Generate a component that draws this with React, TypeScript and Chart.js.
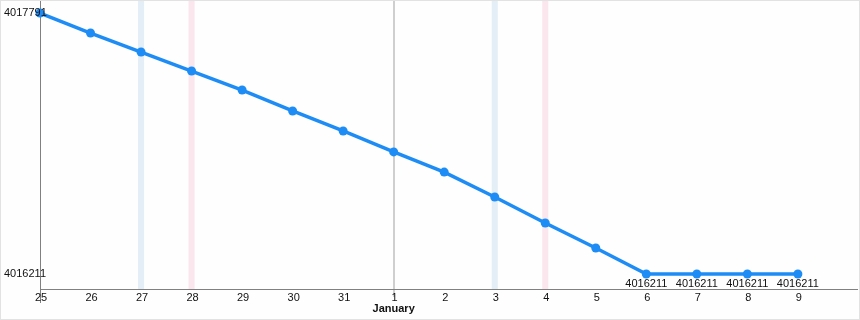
import React, { useEffect, useRef } from 'react';
import { Chart, registerables } from 'chart.js';
Chart.register(...registerables);

const categories = ['25', '26', '27', '28', '29', '30', '31', '1', '2', '3', '4', '5', '6', '7', '8', '9'];
const values = [4017791, 4017670, 4017555, 4017440, 4017325, 4017198, 4017077, 4016950, 4016828, 4016677, 4016520, 4016368, 4016211, 4016211, 4016211, 4016211];
const yTickValues = [4016211, 4017791];
const labeledPointIdx = [12, 13, 14, 15];
const monthLabels = [{ index: 7, text: 'January' }];
const blueBandIdx = [2, 9];
const pinkBandIdx = [3, 10];

const FONT = '"Liberation Sans", Arial, sans-serif';

export default function App() {
  const ref = useRef<HTMLCanvasElement>(null);
  useEffect(() => {
    const canvas = ref.current!;
    const bandPlugin = {
      id: 'bands',
      beforeDatasetsDraw(chart: any) {
        const { ctx, chartArea, scales } = chart;
        ctx.save();
        const draw = (idx: number[], color: string) => {
          ctx.fillStyle = color;
          idx.forEach((i) => {
            const x = scales.x.getPixelForValue(i);
            ctx.fillRect(x - 3, chartArea.top, 6, chartArea.bottom - chartArea.top);
          });
        };
        draw(blueBandIdx, '#e3eef6');
        draw(pinkBandIdx, '#fce6ee');
        // month gridline
        ctx.strokeStyle = '#cfcfcf';
        ctx.lineWidth = 2;
        monthLabels.forEach((m) => {
          const x = Math.round(scales.x.getPixelForValue(m.index));
          ctx.beginPath();
          ctx.moveTo(x, chartArea.top);
          ctx.lineTo(x, chartArea.bottom + 8);
          ctx.stroke();
        });
        // axes
        ctx.strokeStyle = '#808080';
        ctx.lineWidth = 1;
        ctx.beginPath();
        ctx.moveTo(chartArea.left + 0.5, chartArea.top);
        ctx.lineTo(chartArea.left + 0.5, chartArea.bottom + 14);
        ctx.moveTo(chartArea.left, chartArea.bottom + 0.5);
        ctx.lineTo(chartArea.right, chartArea.bottom + 0.5);
        ctx.stroke();
        ctx.restore();
      },
      afterDraw(chart: any) {
        const { ctx, scales, chartArea } = chart;
        ctx.save();
        ctx.fillStyle = '#111';
        ctx.font = '11px ' + FONT;
        ctx.textBaseline = 'middle';
        ctx.textAlign = 'left';
        yTickValues.forEach((v) => {
          ctx.fillText(String(v), 3, scales.y.getPixelForValue(v));
        });
        ctx.textAlign = 'center';
        categories.forEach((c, i) => {
          ctx.fillText(c, scales.x.getPixelForValue(i) + 1, chartArea.bottom + 9);
        });
        labeledPointIdx.forEach((i) => {
          const x = scales.x.getPixelForValue(i);
          const y = scales.y.getPixelForValue(values[i]);
          ctx.fillText(String(values[i]), x, y + 10);
        });
        ctx.font = 'bold 11px ' + FONT;
        monthLabels.forEach((m) => {
          const x = scales.x.getPixelForValue(m.index);
          ctx.fillText(m.text, x, chartArea.bottom + 20);
        });
        ctx.restore();
      },
    };
    const bgPlugin = {
      id: 'bg',
      beforeDraw(chart: any) {
        const { ctx, width, height } = chart;
        ctx.save();
        ctx.fillStyle = '#fdfefd';
        ctx.fillRect(0, 0, width, height);
        ctx.restore();
      },
    };
    const chart = new Chart(canvas, {
      type: 'line',
      data: {
        datasets: [
          {
            data: values.map((v, i) => ({ x: i, y: v })),
            borderColor: '#1e8cf5',
            backgroundColor: '#1e8cf5',
            borderWidth: 3.5,
            pointRadius: 4.5,
            pointBorderWidth: 0,
            tension: 0,
            clip: false,
          },
        ],
      },
      options: {
        animation: false,
        responsive: false,
        maintainAspectRatio: false,
        layout: { autoPadding: false, padding: { left: 0, right: 1, top: 0, bottom: 0 } },
        plugins: { legend: { display: false }, tooltip: { enabled: false } },
        scales: {
          x: {
            type: 'linear',
            min: 0,
            max: 16.19,
            afterFit(scale: any) {
              scale.height = 30;
            },
            ticks: { display: false },
            grid: { display: false, drawTicks: false },
            border: { display: false },
          },
          y: {
            type: 'linear',
            min: 4016120,
            max: 4017864,
            afterFit(scale: any) {
              scale.width = 39;
            },
            ticks: { display: false },
            grid: { display: false, drawTicks: false },
            border: { display: false },
          },
        },
      },
      plugins: [bgPlugin, bandPlugin],
    } as any);
    return () => chart.destroy();
  }, []);
  return (
    <div
      style={{
        position: 'absolute',
        top: 0,
        left: 0,
        width: 858,
        height: 318,
        border: '1px solid #e2e2e2',
      }}
    >
      <canvas ref={ref} width={858} height={318} style={{ display: 'block' }} />
    </div>
  );
}
